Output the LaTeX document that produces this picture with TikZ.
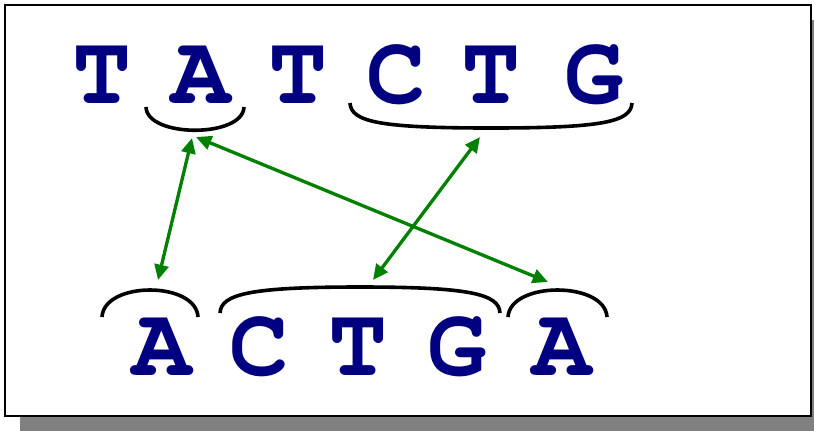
\documentclass[tikz,border=0pt]{standalone}
\usepackage[T1]{fontenc}
\usepackage{courier}
\usetikzlibrary{arrows.meta}
\definecolor{basenavy}{RGB}{0,0,128}
\definecolor{linkgreen}{RGB}{0,128,0}
\definecolor{shadowgray}{RGB}{128,128,128}
\tikzset{
  base/.style={anchor=base, inner sep=0pt, text=basenavy,
    font=\fontsize{74}{74}\selectfont\ttfamily\bfseries},
  brace/.style={draw=black, line width=2.7pt},
  link/.style={draw=linkgreen, line width=2.5pt,
    {Triangle[length=11.5pt,width=10.5pt]}-{Triangle[length=11.5pt,width=10.5pt]}},
}
\begin{document}
\begin{tikzpicture}[x=0.75pt, y=-0.75pt]
  \useasboundingbox (0,0) rectangle (814,430);
  % drop shadow and frame
  \fill[shadowgray] (20,20) rectangle (830,431);
  \draw[fill=white, line width=1.6pt] (5,5) rectangle (811,416);

  % upper sequence
  \node[base] (t1) at (102,103) {T};
  \node[base] (t2) at (201,103) {A};
  \node[base] (t3) at (298,103) {T};
  \node[base] (t4) at (396,103) {C};
  \node[base] (t5) at (491,103) {T};
  \node[base] (t6) at (594,103) {G};

  % lower sequence
  \node[base] (b1) at (162,375) {A};
  \node[base] (b2) at (259,375) {C};
  \node[base] (b3) at (358,375) {T};
  \node[base] (b4) at (457,375) {G};
  \node[base] (b5) at (562,375) {A};

  % groupings under the upper sequence
  \draw[brace] (146,107) .. controls (147,138) and (243,138) .. (244,107);
  \draw[brace] (350,103) .. controls (351,122) and (380,128) .. (491,128)
                         .. controls (602,128) and (631,122) .. (632,103);

  % groupings over the lower sequence
  \draw[brace] (102,317) .. controls (104,281) and (196,281) .. (198,317);
  \draw[brace] (220,313) .. controls (221,294) and (250,287) .. (360,287)
                         .. controls (470,287) and (499,294) .. (500,313);
  \draw[brace] (508,317) .. controls (510,281) and (605,281) .. (607,317);

  % link end points
  \coordinate (uA1) at (192,138);
  \coordinate (uA2) at (196,137);
  \coordinate (uCTG) at (480,137);
  \coordinate (lA) at (158,280);
  \coordinate (lCTG) at (373,280);
  \coordinate (lA2) at (548,282);

  % correspondences
  \draw[link] (uA1) -- (lA);
  \draw[link] (uA2) -- (lA2);
  \draw[link] (uCTG) -- (lCTG);
\end{tikzpicture}
\end{document}
